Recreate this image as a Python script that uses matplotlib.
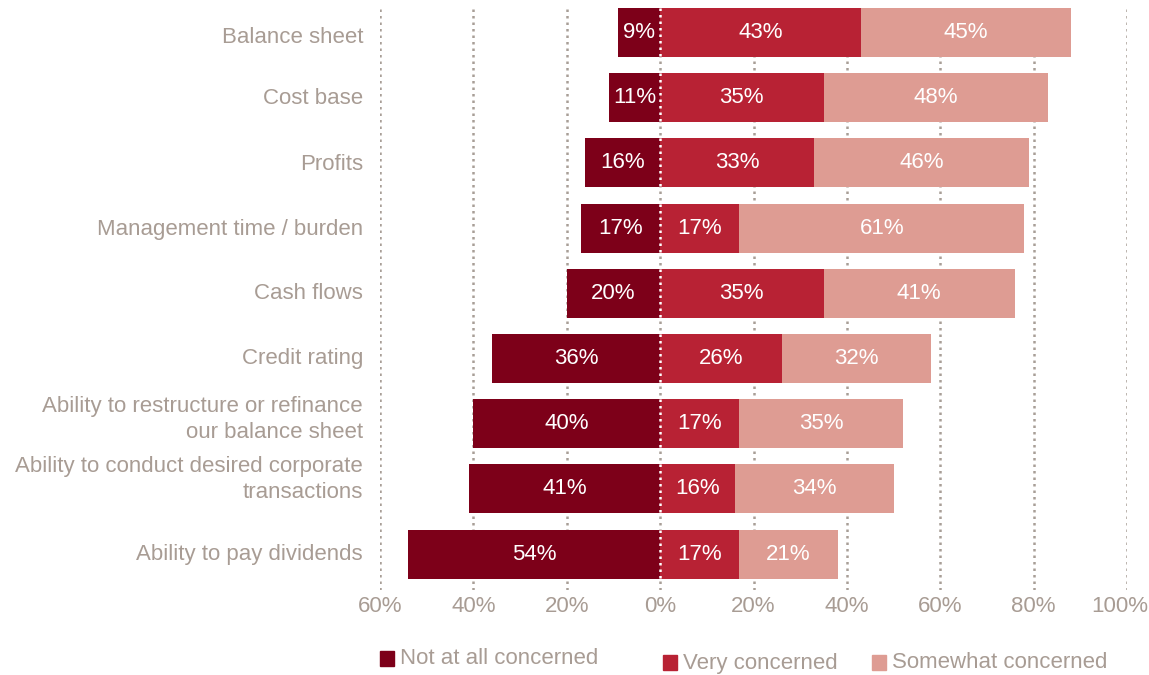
import numpy as np
import matplotlib.pyplot as plt
from matplotlib.patches import Rectangle
from matplotlib.transforms import blended_transform_factory, ScaledTranslation

plt.rcParams["font.family"] = ["Liberation Sans", "DejaVu Sans"]

# ---------- data ----------
categories = [
    "Balance sheet",
    "Cost base",
    "Profits",
    "Management time / burden",
    "Cash flows",
    "Credit rating",
    "Ability to restructure or refinance\nour balance sheet",
    "Ability to conduct desired corporate\ntransactions",
    "Ability to pay dividends",
]
not_at_all = [9, 11, 16, 17, 20, 36, 40, 41, 54]
very = [43, 35, 33, 17, 35, 26, 17, 16, 17]
somewhat = [45, 48, 46, 61, 41, 32, 35, 34, 21]
ticks = [-60, -40, -20, 0, 20, 40, 60, 80, 100]
series_names = ["Not at all concerned", "Very concerned", "Somewhat concerned"]

C_DARK = "#7d0019"
C_MID = "#b82234"
C_LIGHT = "#de9c93"
GREY = "#a89c94"
FS = 16

fig = plt.figure(figsize=(11.49, 6.75), dpi=100)
W, H = 1149, 675
ax = fig.add_axes([380 / W, (H - 590) / H, 747 / W, 582 / H])

y = np.arange(len(categories))
bh = 0.75
na = np.array(not_at_all)
vc = np.array(very)
sw = np.array(somewhat)

# grid lines
for t in ticks:
    ax.axvline(t, color="#a89e97", lw=1.8, ls=(0, (1, 1.6)), zorder=0)

ax.barh(y, -na, height=bh, color=C_DARK, zorder=2)
ax.barh(y, vc, height=bh, color=C_MID, zorder=2)
ax.barh(y, sw, left=vc, height=bh, color=C_LIGHT, zorder=2)

# white dotted zero line over bars
for yi in y:
    ax.plot([0, 0], [yi - bh / 2, yi + bh / 2], color="white", lw=1.8,
            ls=(0, (1, 1.6)), zorder=3)

for yi, a, b, c in zip(y, na, vc, sw):
    kw = dict(color="white", fontsize=FS, ha="center", va="center", zorder=4)
    ax.text(-a / 2, yi, f"{a}%", **kw)
    ax.text(b / 2, yi, f"{b}%", **kw)
    ax.text(b + c / 2, yi, f"{c}%", **kw)

ax.set_xlim(-60, 100)
ax.set_ylim(len(categories) - 1 + 0.55, -bh / 2)
ax.set_xticks([])
ax.set_yticks([])
for s in ax.spines.values():
    s.set_visible(False)

# x tick labels (last one nudged left so it fits the figure)
xtr = blended_transform_factory(ax.transData, ax.transAxes)
for t in ticks:
    tr = xtr
    if t == ticks[-1]:
        tr = xtr + ScaledTranslation(-7 / 100, 0, fig.dpi_scale_trans)
    ax.text(t, -17 / 582, f"{abs(t)}%", transform=tr, color=GREY,
            fontsize=FS, ha="center", va="center", clip_on=False)

# category labels, small vertical nudges as in the original layout
label_offsets = [0.08, 0.02, 0.02, 0.02, 0.0, 0.0, -0.07, -0.14, 0.0]
ytr = blended_transform_factory(ax.transAxes, ax.transData)
for yi, cat, off in zip(y, categories, label_offsets):
    ax.text(-17 / 747, yi + off, cat, transform=ytr, color=GREY, fontsize=FS,
            ha="right", va="center", linespacing=1.3, clip_on=False)

# legend drawn by hand
legend_items = [
    (380, 651, series_names[0], C_DARK),
    (663, 655, series_names[1], C_MID),
    (872, 655, series_names[2], C_LIGHT),
]
for x0, y0, name, col in legend_items:
    fig.add_artist(Rectangle((x0 / W, (H - y0 - 15) / H), 14 / W, 15 / H,
                             transform=fig.transFigure, color=col))
    fig.text((x0 + 20) / W, (H - y0 - 8) / H, name, color=GREY,
             fontsize=FS, va="center", ha="left")

fig.savefig("out.png", dpi=100)
